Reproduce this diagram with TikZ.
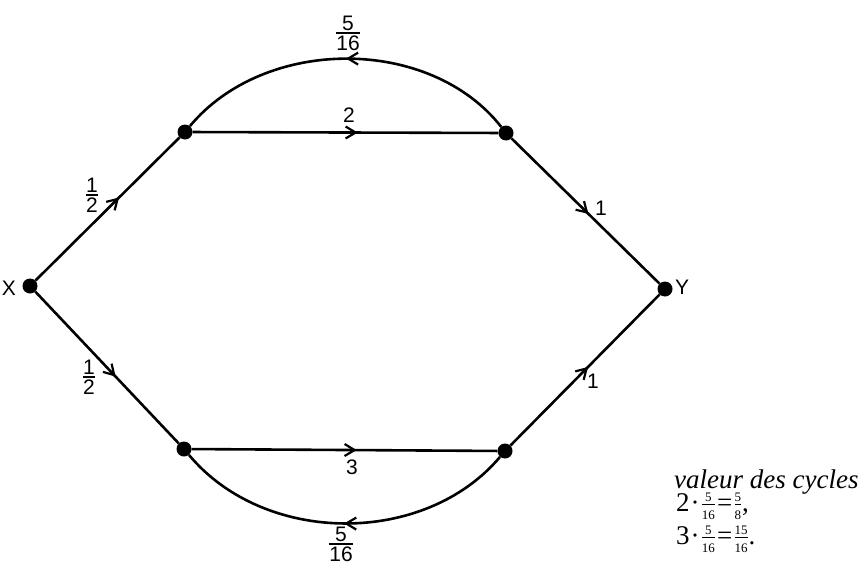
\documentclass[tikz,border=0pt]{standalone}
\usepackage{amsmath}
\usepackage{fontspec}
\setmainfont{Liberation Serif}
\newfontfamily\labfont{Liberation Sans}
\usetikzlibrary{arrows.meta,decorations.markings}
\newcommand\lfr[2]{$\genfrac{}{}{1.6pt}{1}{\mbox{#1}}{\mbox{#2}}$}
\newcommand\sfr[2]{$\genfrac{}{}{0.8pt}{1}{\mbox{\fontsize{13}{13}\selectfont #1}}{\mbox{\fontsize{13}{13}\selectfont #2}}$}
\tikzset{
  dot/.style={circle,fill=black,minimum size=15pt,inner sep=0pt},
  edge/.style={line width=2.6pt},
  midarrow/.style={postaction={decorate},decoration={markings,
    mark=at position #1 with {\arrow{Straight Barb[length=10pt,width=12pt,line width=2.2pt]}}}},
  lbl/.style={font=\labfont\fontsize{21}{21}\selectfont,inner sep=0pt},
  eq/.style={font=\fontsize{27}{29}\selectfont,inner sep=0pt,anchor=base west}
}
\begin{document}
\begin{tikzpicture}[x=1pt,y=-1pt]
\useasboundingbox[fill=white] (0,0) rectangle (859,570);
\node[dot] (X) at (30,286) {};
\node[dot] (A) at (185,132) {};
\node[dot] (B) at (506,133) {};
\node[dot] (Y) at (665,289) {};
\node[dot] (C) at (184,449) {};
\node[dot] (D) at (505,451) {};
\node[lbl] (xl) at (9,288) {X};
\node[lbl] (yl) at (682,287) {Y};
\draw[edge,midarrow=0.58] (X) -- (A);
\draw[edge,midarrow=0.56] (X) -- (C);
\draw[edge,midarrow=0.54] (A) -- (B);
\draw[edge,midarrow=0.54] (C) -- (D);
\draw[edge,midarrow=0.52] (B) -- (Y);
\draw[edge,midarrow=0.52] (D) -- (Y);
\draw[edge,midarrow=0.5] (B) .. controls (430,36) and (265,36) .. (A);
\draw[edge,midarrow=0.5] (D) .. controls (425,546) and (265,546) .. (C);
\node[lbl] (l1) at (348,33) {\lfr{5}{16}};
\node[lbl] (l2) at (349,115) {2};
\node[lbl] (l3) at (92,195) {\lfr{1}{2}};
\node[lbl] (l4) at (601,208) {1};
\node[lbl] (l5) at (89,377) {\lfr{1}{2}};
\node[lbl] (l6) at (352,467) {3};
\node[lbl] (l7) at (593,381) {1};
\node[lbl] (l8) at (341,544) {\lfr{5}{16}};
\node[eq] (v1) at (674,488) {\itshape valeur des cycles};
\node[eq] (v2) at (676,511) {2\kern1pt·\kern1pt\sfr{5}{16}\kern1pt=\kern1pt\sfr{5}{8},};
\node[eq] (v3) at (676,544) {3\kern1pt·\kern1pt\sfr{5}{16}\kern1pt=\kern1pt\sfr{15}{16}.};
\end{tikzpicture}
\end{document}
